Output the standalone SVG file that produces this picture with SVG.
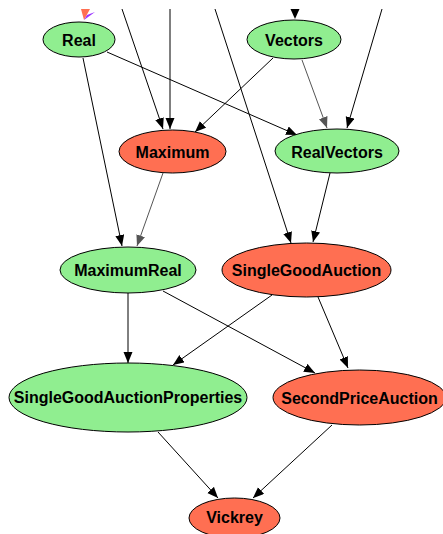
<svg xmlns="http://www.w3.org/2000/svg" width="443" height="534" viewBox="0 0 443 534">
<style>
.g{fill:#90ee90;stroke:#000;stroke-width:1}
.r{fill:#ff6f52;stroke:#000;stroke-width:1}
text{font-family:"Liberation Sans",Arial,sans-serif;font-weight:bold;font-size:16px;text-anchor:middle;dominant-baseline:central;fill:#000}
.e{fill:none;stroke:#000;stroke-width:1}
.eg{fill:none;stroke:#555;stroke-width:1}
</style>
<defs>
<marker id="a" markerUnits="userSpaceOnUse" markerWidth="13" markerHeight="11" refX="11" refY="4.5" orient="auto"><path d="M0,0 L11,4.5 L0,9 Z" fill="#000"/></marker>
<marker id="ag" markerUnits="userSpaceOnUse" markerWidth="13" markerHeight="11" refX="11" refY="4.5" orient="auto"><path d="M0,0 L11,4.5 L0,9 Z" fill="#555"/></marker>
</defs>
<g id="connectors">
<path class="e" d="M122,9 L163,129" marker-end="url(#a)"/>
<path class="e" d="M170,9 L170,129" marker-end="url(#a)"/>
<path class="e" d="M215,9 L291,243" marker-end="url(#a)"/>
<path class="e" d="M382,9 L347,128" marker-end="url(#a)"/>
<polygon points="290.5,9 299.5,9 295,19" fill="#000"/>
<path class="e" d="M107,52 L297,135" marker-end="url(#a)"/>
<path class="e" d="M83,58 L122,246" marker-end="url(#a)"/>
<path class="e" d="M273,58 L195,132" marker-end="url(#a)"/>
<path class="eg" d="M302,60 L327,128" marker-end="url(#ag)"/>
<path class="eg" d="M163,173 L137,246" marker-end="url(#ag)"/>
<path class="e" d="M330,173 L313,242" marker-end="url(#a)"/>
<path class="e" d="M128,293 L128,363" marker-end="url(#a)"/>
<path class="e" d="M163,291 L315,373" marker-end="url(#a)"/>
<path class="e" d="M272,295 L173,365" marker-end="url(#a)"/>
<path class="e" d="M318,297 L348,368" marker-end="url(#a)"/>
<path class="e" d="M158,432 L218,498" marker-end="url(#a)"/>
<path class="e" d="M332,425 L253,498" marker-end="url(#a)"/>
</g>
<g id="offscreen-heads">
<polygon points="81,9 90,9 84,20" fill="#ff6f52"/>
<polygon points="87,15 95,12 84,20" fill="#9933ff"/>
</g>
<g id="Real"><ellipse class="g" cx="79" cy="39.5" rx="36" ry="17.5"/><text x="79" y="40">Real</text></g>
<g id="Vectors"><ellipse class="g" cx="294" cy="39.5" rx="47" ry="19.5"/><text x="294" y="40">Vectors</text></g>
<g id="Maximum"><ellipse class="r" cx="172.5" cy="151.5" rx="53.5" ry="21.5"/><text x="172.5" y="152">Maximum</text></g>
<g id="RealVectors"><ellipse class="g" cx="337" cy="151" rx="62" ry="22"/><text x="337" y="152">RealVectors</text></g>
<g id="MaximumReal"><ellipse class="g" cx="128" cy="270" rx="68" ry="23"/><text x="128" y="270">MaximumReal</text></g>
<g id="SingleGoodAuction"><ellipse class="r" cx="306.5" cy="270" rx="84.5" ry="27"/><text x="306.5" y="270">SingleGoodAuction</text></g>
<g id="SingleGoodAuctionProperties"><ellipse class="g" cx="128" cy="397.5" rx="119" ry="34.5"/><text x="128" y="397">SingleGoodAuctionProperties</text></g>
<g id="SecondPriceAuction"><ellipse class="r" cx="359.5" cy="397.5" rx="86.5" ry="27.5"/><text x="359.5" y="398">SecondPriceAuction</text></g>
<g id="Vickrey"><ellipse class="r" cx="234.5" cy="518" rx="45.5" ry="20"/><text x="234.5" y="517">Vickrey</text></g>
</svg>
